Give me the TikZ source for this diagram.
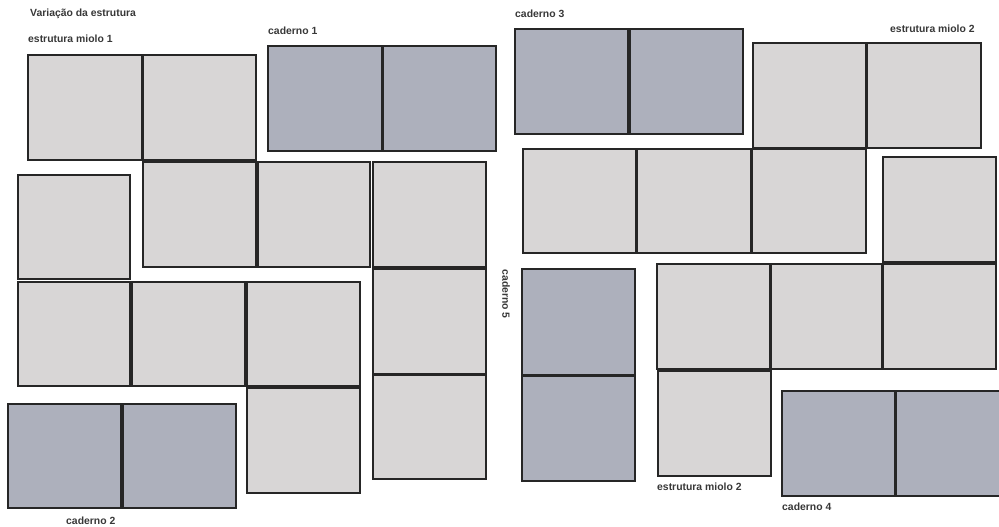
\documentclass[tikz,border=0pt]{standalone}
\usepackage{fontspec}
\setmainfont{Liberation Sans}
\begin{document}
\begin{tikzpicture}[x=1pt,y=-1pt,
  page/.style={draw=black!85, line width=1.3pt, inner sep=0pt, outer sep=0pt, anchor=north west},
  miolo/.style={page, fill=mgray},
  cad/.style={page, fill=cblue},
  lbl/.style={font=\bfseries\fontsize{10.4}{12}\selectfont, text=black!78, inner sep=0pt, anchor=west}]
\definecolor{mgray}{RGB}{216,214,214}
\definecolor{cblue}{RGB}{173,176,188}
\newcommand\pgbox[6]{\node[#1, minimum width={(#5-#3)*1pt}, minimum height={(#6-#4)*1pt}] (#2) at (#3,#4) {};}
\clip (0,0) rectangle (999,527);
\fill[white] (0,0) rectangle (999,527);
% left half: estrutura miolo 1
\pgbox{miolo}{a1}{28}{55}{142}{160}
\pgbox{miolo}{a2}{143}{55}{256}{160}
\pgbox{miolo}{b1}{18}{175}{130}{279}
\pgbox{miolo}{c1}{143}{162}{256}{267}
\pgbox{miolo}{c2}{258}{162}{370}{267}
\pgbox{miolo}{c3}{373}{162}{486}{267}
\pgbox{miolo}{d1}{18}{282}{130}{386}
\pgbox{miolo}{d2}{132}{282}{245}{386}
\pgbox{miolo}{d3}{247}{282}{360}{386}
\pgbox{miolo}{e1}{373}{269}{486}{374}
\pgbox{miolo}{e2}{373}{375}{486}{479}
\pgbox{miolo}{f1}{247}{388}{360}{493}
% cadernos left
\pgbox{cad}{k1a}{268}{46}{382}{151}
\pgbox{cad}{k1b}{383}{46}{496}{151}
\pgbox{cad}{k2a}{8}{404}{121}{508}
\pgbox{cad}{k2b}{123}{404}{236}{508}
% right half
\pgbox{cad}{k3a}{515}{29}{628}{134}
\pgbox{cad}{k3b}{630}{29}{743}{134}
\pgbox{miolo}{g1}{753}{43}{866}{148}
\pgbox{miolo}{g2}{867}{43}{981}{148}
\pgbox{miolo}{h1}{523}{149}{636}{253}
\pgbox{miolo}{h2}{637}{149}{751}{253}
\pgbox{miolo}{h3}{752}{149}{866}{253}
\pgbox{miolo}{i1}{883}{157}{996}{262}
\pgbox{cad}{k5a}{522}{269}{635}{375}
\pgbox{cad}{k5b}{522}{376}{635}{481}
\pgbox{miolo}{j1}{657}{264}{770}{369}
\pgbox{miolo}{j2}{771}{264}{882}{369}
\pgbox{miolo}{j3}{883}{264}{996}{369}
\pgbox{miolo}{m1}{658}{371}{771}{476}
\pgbox{cad}{k4a}{782}{391}{895}{496}
\pgbox{cad}{k4b}{896}{391}{1006}{496}
% labels
\node[lbl] (t0) at (30,14) {Variação da estrutura};
\node[lbl] (t1) at (28,39) {estrutura miolo 1};
\node[lbl] (t2) at (268,31) {caderno 1};
\node[lbl] (t3) at (515,14) {caderno 3};
\node[lbl] (t4) at (890,29) {estrutura miolo 2};
\node[lbl] (t5) at (66,521) {caderno 2};
\node[lbl] (t6) at (657,487) {estrutura miolo 2};
\node[lbl] (t7) at (782,507) {caderno 4};
\node[lbl, anchor=center, rotate=-90] (t8) at (506,294) {caderno 5};
\end{tikzpicture}
\end{document}
